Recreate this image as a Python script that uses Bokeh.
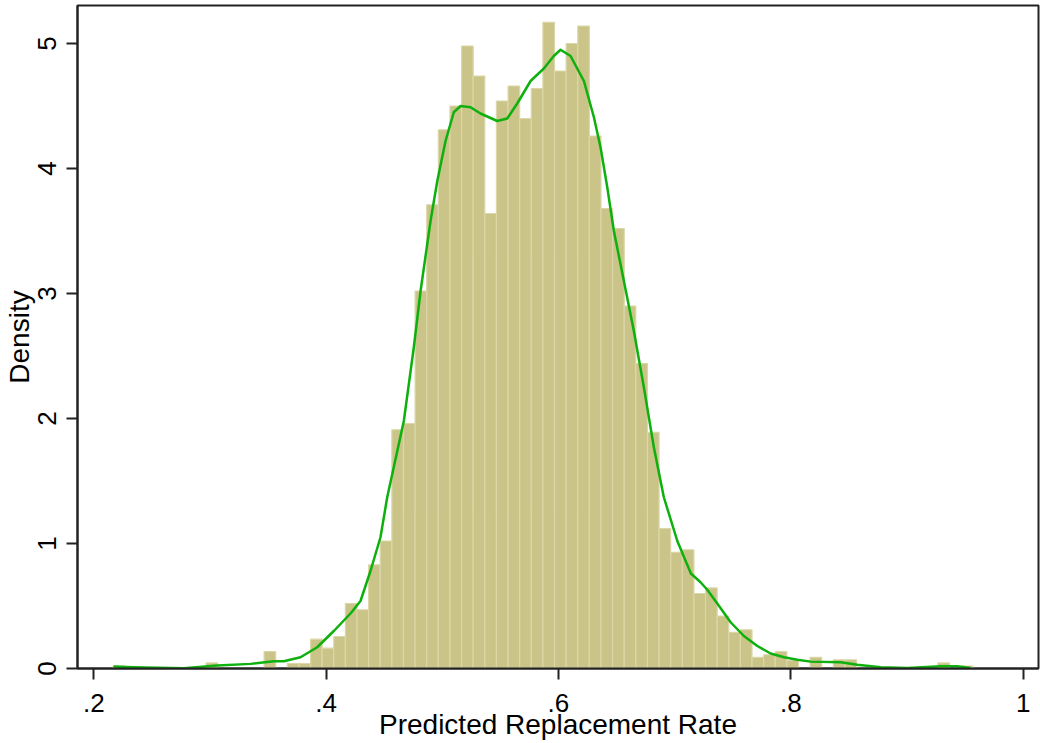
from bokeh.plotting import figure
from bokeh.models import FixedTicker, Range1d, ColumnDataSource
from bokeh.embed import file_html
from bokeh.resources import INLINE

# Histogram specification (Stata-style: bins start at data minimum)
bin_start = 0.2166
bin_width = 0.01

# Density of each bin
density = [
    0.02, 0.0, 0.0, 0.0, 0.0, 0.0, 0.0, 0.0, 0.045, 0.0,
    0.0, 0.0, 0.0, 0.136, 0.0, 0.04, 0.04, 0.235, 0.163, 0.256,
    0.52, 0.47, 0.83, 1.02, 1.91, 1.96, 3.02, 3.71, 4.31, 4.50,
    4.98, 4.74, 3.64, 4.54, 4.66, 4.40, 4.64, 5.17, 4.78, 5.00,
    5.14, 4.26, 3.68, 3.52, 2.90, 2.44, 1.89, 1.12, 0.93, 0.95,
    0.60, 0.645, 0.42, 0.29, 0.31, 0.09, 0.11, 0.136, 0.064, 0.0,
    0.09, 0.0, 0.07, 0.07, 0.0, 0.0, 0.0, 0.0, 0.0, 0.0,
    0.0, 0.045, 0.0, 0.02,
]

# Kernel density curve
kde_x = [0.2170, 0.2342, 0.2775, 0.3062, 0.3349, 0.3550, 0.3636, 0.3780, 0.3923, 0.4066,
         0.4210, 0.4296, 0.4382, 0.4468, 0.4526, 0.4669, 0.4755, 0.4813, 0.4899, 0.4957,
         0.5028, 0.5099, 0.5157, 0.5243, 0.5329, 0.5473, 0.5559, 0.5645, 0.5760, 0.5874,
         0.5960, 0.6018, 0.6104, 0.6219, 0.6305, 0.6362, 0.6420, 0.6477, 0.6563, 0.6649,
         0.6735, 0.6821, 0.6907, 0.7023, 0.7140, 0.7223, 0.7281, 0.7367, 0.7482, 0.7596,
         0.7712, 0.7826, 0.7941, 0.8056, 0.8171, 0.8429, 0.8573, 0.8773, 0.9003, 0.9290,
         0.9433, 0.9548]
kde_y = [0.016, 0.010, 0.003, 0.024, 0.037, 0.058, 0.058, 0.09, 0.17, 0.30,
         0.44, 0.54, 0.78, 1.05, 1.37, 1.98, 2.57, 3.02, 3.58, 3.90,
         4.22, 4.45, 4.50, 4.49, 4.44, 4.38, 4.40, 4.52, 4.70, 4.80,
         4.90, 4.95, 4.90, 4.70, 4.41, 4.17, 3.85, 3.50, 3.10, 2.70,
         2.25, 1.77, 1.37, 1.02, 0.76, 0.69, 0.63, 0.52, 0.37, 0.26,
         0.18, 0.12, 0.09, 0.07, 0.055, 0.05, 0.03, 0.01, 0.005, 0.018,
         0.018, 0.005]

x_ticks = [0.2, 0.4, 0.6, 0.8, 1.0]
x_tick_labels = [".2", ".4", ".6", ".8", "1"]
y_ticks = [0, 1, 2, 3, 4, 5]
y_tick_labels = ["0", "1", "2", "3", "4", "5"]
x_title = "Predicted Replacement Rate"
y_title = "Density"

lefts = [bin_start + i * bin_width for i in range(len(density))]
rights = [l + bin_width for l in lefts]
src = ColumnDataSource(dict(left=lefts, right=rights, top=density, bottom=[0] * len(density)))

p = figure(width=1040, height=743, output_backend="svg", toolbar_location=None,
           x_range=Range1d(0.186, 1.0132), y_range=Range1d(0, 5.304),
           min_border_left=77, min_border_right=2, min_border_top=5, min_border_bottom=75)
p.background_fill_color = "white"
p.border_fill_color = "white"
p.outline_line_color = "#222222"
p.outline_line_width = 2
p.xgrid.visible = False
p.ygrid.visible = False

p.quad(left="left", right="right", top="top", bottom="bottom", source=src,
       fill_color="#cac488", line_color="#dbd7a8", line_width=1.2)
p.line(kde_x, kde_y, line_color="#0db00d", line_width=2.5, line_join="round")

FONT = "Liberation Sans"
for ax in (p.xaxis[0], p.yaxis[0]):
    ax.axis_line_color = "#222222"
    ax.axis_line_width = 2
    ax.major_tick_line_color = "#222222"
    ax.major_tick_line_width = 2
    ax.major_tick_out = 11
    ax.major_tick_in = 0
    ax.minor_tick_out = 0
    ax.minor_tick_in = 0
    ax.major_label_text_font = FONT
    ax.major_label_text_font_size = "26px"
    ax.major_label_text_color = "black"
    ax.axis_label_text_font = FONT
    ax.axis_label_text_font_size = "28px"
    ax.axis_label_text_font_style = "normal"
    ax.axis_label_text_color = "black"

p.xaxis.ticker = FixedTicker(ticks=x_ticks)
p.xaxis.major_label_overrides = dict(zip(x_ticks, x_tick_labels))
p.yaxis.ticker = FixedTicker(ticks=y_ticks)
p.yaxis.major_label_overrides = dict(zip(y_ticks, y_tick_labels))
p.yaxis.major_label_orientation = "vertical"
p.xaxis.axis_label = x_title
p.yaxis.axis_label = y_title
p.xaxis.major_label_standoff = 14
p.xaxis.axis_label_standoff = -6
p.yaxis.major_label_standoff = 11
p.yaxis.axis_label_standoff = 0

open("out.html", "w").write(file_html(p, INLINE))
